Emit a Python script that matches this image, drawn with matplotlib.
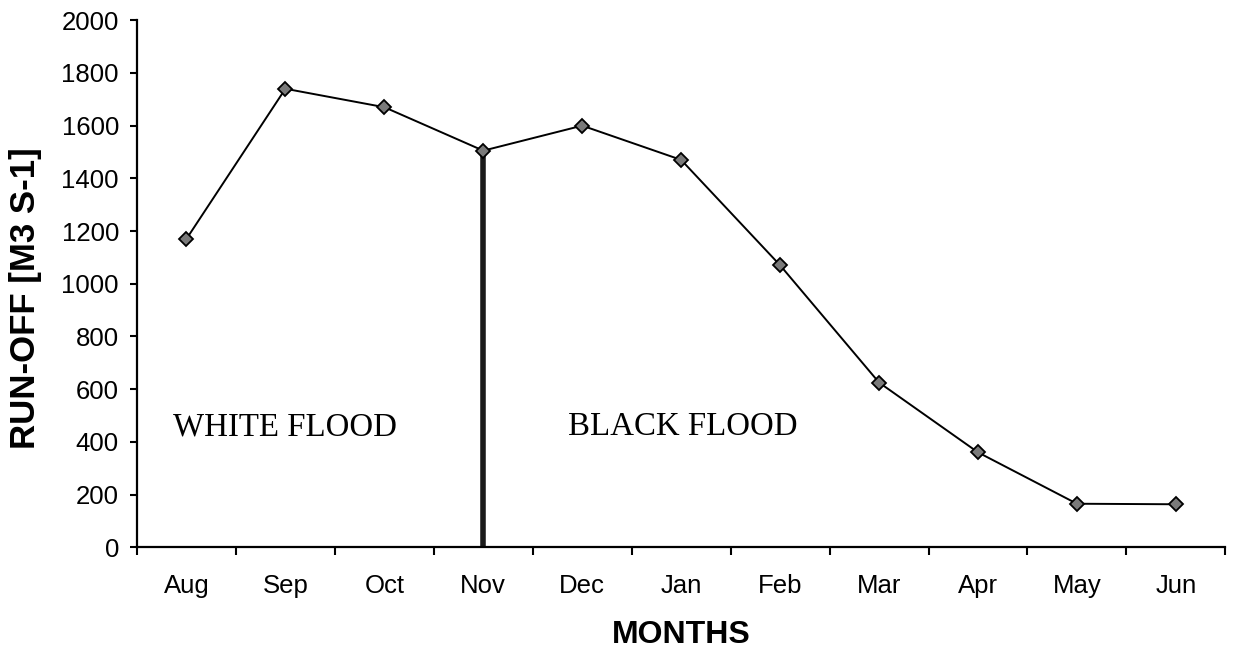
import numpy as np
import matplotlib.pyplot as plt
from matplotlib.ticker import FixedLocator

# Abflussdaten je Monat
months = ["Aug", "Sep", "Oct", "Nov", "Dec", "Jan", "Feb", "Mar", "Apr", "May", "Jun"]
runoff = [1170, 1740, 1670, 1505, 1600, 1470, 1070, 625, 360, 165, 163]
split_month = 3  # Nov: Grenze White/Black Flood
yticks = list(range(0, 2001, 200))

plt.rcParams['font.family'] = ['Liberation Sans', 'DejaVu Sans']

fig = plt.figure(figsize=(12.34, 6.53), dpi=100)
ax = fig.add_axes([0.111, 0.162, 0.882, 0.807])

x = np.arange(len(months))
ax.vlines(x[split_month], 0, runoff[split_month], color="#1a1a1a", linewidth=4, zorder=2)
ax.plot(x, runoff, color="black", linewidth=1.4, marker="D", markersize=7,
        markerfacecolor="#7a7a7a", markeredgecolor="black", markeredgewidth=1.3, zorder=3)

ax.text(-0.14, 456, "WHITE FLOOD", family=["Liberation Serif", "DejaVu Serif"],
        fontsize=23.7, va="center", ha="left")
ax.text(3.86, 456, "BLACK FLOOD", family=["Liberation Serif", "DejaVu Serif"],
        fontsize=23.7, va="center", ha="left")

ax.set_xlim(-0.5, len(months) - 0.5)
ax.set_ylim(0, 2000)
ax.set_yticks(yticks)
ax.set_xticks(x)
ax.set_xticklabels(months)
ax.xaxis.set_minor_locator(FixedLocator(np.arange(-0.5, len(months), 1.0)))
ax.tick_params(axis="x", which="major", length=0, pad=19, labelsize=18.5)
ax.tick_params(axis="x", which="minor", length=6, width=1.5, direction="out")
ax.tick_params(axis="y", length=5, width=1.5, direction="out", pad=8, labelsize=18.5)

for s in ["top", "right"]:
    ax.spines[s].set_visible(False)
for s in ["left", "bottom"]:
    ax.spines[s].set_linewidth(1.6)

ax.set_xlabel("MONTHS", fontsize=23, fontweight="bold", labelpad=16)
ax.set_ylabel("RUN-OFF [M3 S-1]", fontsize=25, fontweight="bold")
ax.yaxis.set_label_coords(-0.087, 0.4725)

fig.savefig("out.png", dpi=100)
